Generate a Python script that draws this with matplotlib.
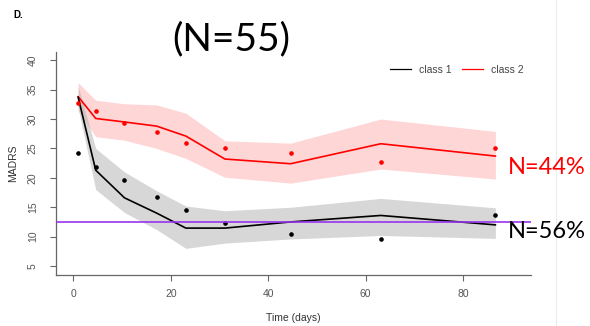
import matplotlib
matplotlib.use("Agg")
from matplotlib import pyplot as plt
from matplotlib.lines import Line2D

plt.rcParams['font.family'] = ['Liberation Sans', 'DejaVu Sans']

# time points (days)
days = [1, 4.6, 10.5, 17.1, 23.1, 31.1, 44.6, 63.1, 86.6]

# class 1 (black)
c1_obs = [24.2, 21.9, 19.7, 16.8, 14.6, 12.4, 10.45, 9.6, 13.6]
c1_fit = [33.7, 21.3, 16.6, 14.0, 11.45, 11.45, 12.5, 13.6, 12.0]
c1_lo = [31.8, 18.0, 14.1, 11.2, 8.0, 8.9, 9.6, 10.2, 9.7]
c1_hi = [35.6, 25.0, 21.0, 17.8, 15.2, 14.4, 15.0, 16.5, 14.9]

# class 2 (red)
c2_obs = [32.8, 31.4, 29.3, 27.85, 26.0, 25.0, 24.2, 22.7, 25.0]
c2_fit = [33.8, 30.1, 29.5, 28.8, 27.1, 23.2, 22.4, 25.8, 23.7]
c2_lo = [31.4, 27.0, 26.4, 25.0, 23.3, 20.1, 19.1, 21.5, 19.8]
c2_hi = [36.2, 33.2, 32.6, 32.4, 31.0, 26.3, 25.9, 30.0, 27.9]

threshold = 12.5

fig = plt.figure(figsize=(5.9, 3.26), dpi=100)
ax = fig.add_axes([0.0949, 0.1564, 0.805, 0.684])

ax.fill_between(days, c2_lo, c2_hi, color='#ffd6d6', lw=0, zorder=1)
ax.fill_between(days, c1_lo, c1_hi, color='#b0b0b0', alpha=0.5, lw=0, zorder=2)
ax.plot(days, c2_fit, color='red', lw=1.2, zorder=3)
ax.plot(days, c1_fit, color='black', lw=1.2, zorder=3)
ax.plot(days, c2_obs, 'o', color='red', ms=2.3, zorder=4)
ax.plot(days, c1_obs, 'o', color='black', ms=2.3, zorder=4)
ax.axhline(threshold, color='#9933ee', lw=1.2, zorder=5)

ax.set_xlim(-3.55, 93.9)
ax.set_ylim(3.47, 41.4)
ax.set_xticks([0, 20, 40, 60, 80])
ax.set_yticks([5, 10, 15, 20, 25, 30, 35, 40])
for s in ['top', 'right']:
    ax.spines[s].set_visible(False)
for s in ['left', 'bottom']:
    ax.spines[s].set_color('#666666')
    ax.spines[s].set_linewidth(0.9)
ax.tick_params(axis='both', colors='#666666', labelcolor='#555555',
               labelsize=7.5, length=4, width=0.8)
ax.tick_params(axis='y', pad=9)
ax.tick_params(axis='x', pad=6)
for lab in ax.get_yticklabels():
    lab.set_rotation(90)
    lab.set_va('center')

ax.set_xlabel('Time (days)', fontsize=7.5, color='#333333', labelpad=10)
ax.set_ylabel('MADRS', fontsize=7.5, color='#333333', labelpad=7)

handles = [Line2D([], [], color='black', lw=0.9),
           Line2D([], [], color='red', lw=0.9)]
ax.legend(handles, ['class 1', 'class 2'], loc='upper right',
          bbox_to_anchor=(1.005, 0.985), ncol=2, frameon=False, fontsize=7.5,
          handlelength=2.0, handletextpad=0.8, columnspacing=1.0,
          labelcolor='#444444')

fig.text(0.392, 0.88, '(N=55)', fontsize=28, family='Lato', ha='center', va='center')
fig.text(0.022, 0.953, 'D.', fontsize=7, fontweight='bold', ha='left', va='center')
fig.text(0.861, 0.485, 'N=44%', fontsize=17, family='Lato', color='red', ha='left', va='center')
fig.text(0.861, 0.289, 'N=56%', fontsize=17, family='Lato', color='black', ha='left', va='center')

fig.add_artist(Line2D([556 / 590, 556 / 590], [0, 1], color='#ebebeb', lw=0.8))

fig.savefig('out.png', dpi=100)
